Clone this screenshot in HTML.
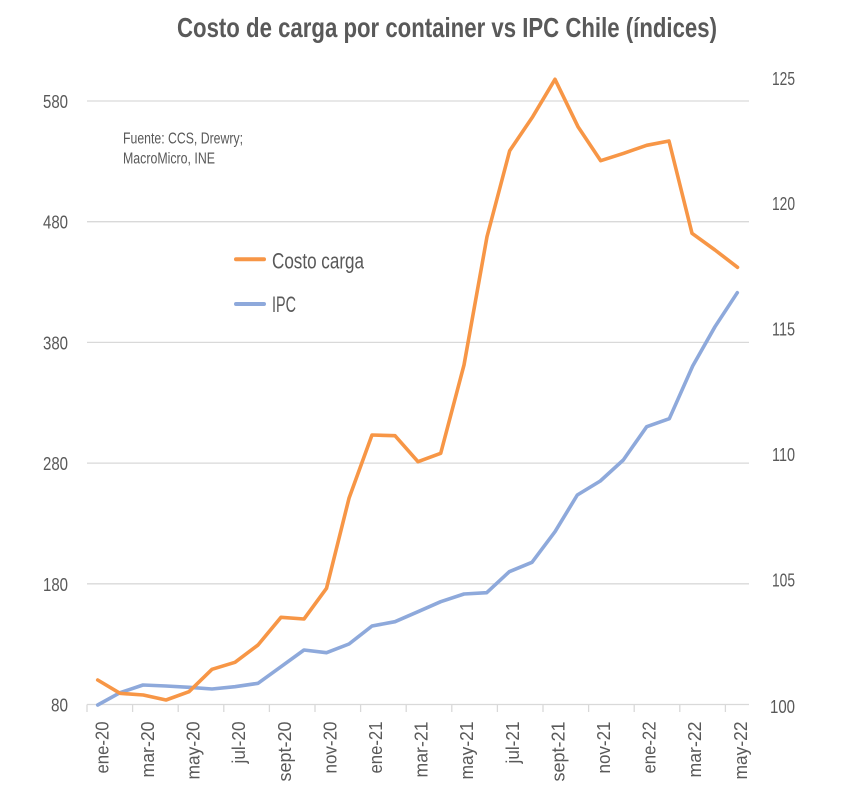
<!DOCTYPE html>
<html>
<head>
<meta charset="utf-8">
<style>
  html,body{margin:0;padding:0;background:#fff;}
  svg{display:block;}
  text{font-family:"Liberation Sans Narrow","Liberation Sans",sans-serif;fill:#595959;}
</style>
</head>
<body>
<svg width="859" height="797" viewBox="0 0 859 797" xmlns="http://www.w3.org/2000/svg">
  <rect width="859" height="797" fill="#fff"/>
  <!-- Title -->
  <text x="177" y="37" font-size="28" font-weight="bold" textLength="540" lengthAdjust="spacingAndGlyphs">Costo de carga por container vs IPC Chile (índices)</text>

  <!-- gridlines -->
  <g stroke="#d9d9d9" stroke-width="1.3">
    <line x1="87" y1="101" x2="749" y2="101"/>
    <line x1="87" y1="221.7" x2="749" y2="221.7"/>
    <line x1="87" y1="342.4" x2="749" y2="342.4"/>
    <line x1="87" y1="463.1" x2="749" y2="463.1"/>
    <line x1="87" y1="583.8" x2="749" y2="583.8"/>
    <line x1="87" y1="704.5" x2="749" y2="704.5"/>
  </g>
  <!-- x ticks -->
  <g stroke="#d9d9d9" stroke-width="1.3">
    <line x1="87" y1="704.5" x2="87" y2="712"/>
    <line x1="132.6" y1="704.5" x2="132.6" y2="712"/>
    <line x1="178.2" y1="704.5" x2="178.2" y2="712"/>
    <line x1="223.8" y1="704.5" x2="223.8" y2="712"/>
    <line x1="269.4" y1="704.5" x2="269.4" y2="712"/>
    <line x1="315" y1="704.5" x2="315" y2="712"/>
    <line x1="360.6" y1="704.5" x2="360.6" y2="712"/>
    <line x1="406.2" y1="704.5" x2="406.2" y2="712"/>
    <line x1="451.8" y1="704.5" x2="451.8" y2="712"/>
    <line x1="497.4" y1="704.5" x2="497.4" y2="712"/>
    <line x1="543" y1="704.5" x2="543" y2="712"/>
    <line x1="588.6" y1="704.5" x2="588.6" y2="712"/>
    <line x1="634.2" y1="704.5" x2="634.2" y2="712"/>
    <line x1="679.8" y1="704.5" x2="679.8" y2="712"/>
    <line x1="725.4" y1="704.5" x2="725.4" y2="712"/>
  </g>

  <!-- left axis labels -->
  <g font-size="18" text-anchor="end">
    <text x="68" y="108" textLength="25" lengthAdjust="spacingAndGlyphs">580</text>
    <text x="68" y="228.7" textLength="25" lengthAdjust="spacingAndGlyphs">480</text>
    <text x="68" y="349.4" textLength="25" lengthAdjust="spacingAndGlyphs">380</text>
    <text x="68" y="470.1" textLength="25" lengthAdjust="spacingAndGlyphs">280</text>
    <text x="68" y="590.8" textLength="25" lengthAdjust="spacingAndGlyphs">180</text>
    <text x="68" y="711.5" textLength="17" lengthAdjust="spacingAndGlyphs">80</text>
  </g>
  <!-- right axis labels -->
  <g font-size="18">
    <text x="772" y="85" textLength="23" lengthAdjust="spacingAndGlyphs">125</text>
    <text x="772" y="210.2" textLength="23" lengthAdjust="spacingAndGlyphs">120</text>
    <text x="772" y="335.7" textLength="23" lengthAdjust="spacingAndGlyphs">115</text>
    <text x="772" y="461.2" textLength="23" lengthAdjust="spacingAndGlyphs">110</text>
    <text x="772" y="586.7" textLength="23" lengthAdjust="spacingAndGlyphs">105</text>
    <text x="770" y="713" textLength="25" lengthAdjust="spacingAndGlyphs">100</text>
  </g>

  <!-- x labels -->
  <g font-size="18" text-anchor="end">
    <text transform="translate(108.4,721.5) rotate(-90)" textLength="52" lengthAdjust="spacingAndGlyphs">ene-20</text>
    <text transform="translate(154,721.5) rotate(-90)" textLength="56" lengthAdjust="spacingAndGlyphs">mar-20</text>
    <text transform="translate(199.6,721.5) rotate(-90)" textLength="58" lengthAdjust="spacingAndGlyphs">may-20</text>
    <text transform="translate(245.2,721.5) rotate(-90)" textLength="42" lengthAdjust="spacingAndGlyphs">jul-20</text>
    <text transform="translate(290.8,721.5) rotate(-90)" textLength="60" lengthAdjust="spacingAndGlyphs">sept-20</text>
    <text transform="translate(336.4,721.5) rotate(-90)" textLength="52" lengthAdjust="spacingAndGlyphs">nov-20</text>
    <text transform="translate(382,721.5) rotate(-90)" textLength="52" lengthAdjust="spacingAndGlyphs">ene-21</text>
    <text transform="translate(427.6,721.5) rotate(-90)" textLength="56" lengthAdjust="spacingAndGlyphs">mar-21</text>
    <text transform="translate(473.2,721.5) rotate(-90)" textLength="58" lengthAdjust="spacingAndGlyphs">may-21</text>
    <text transform="translate(518.8,721.5) rotate(-90)" textLength="42" lengthAdjust="spacingAndGlyphs">jul-21</text>
    <text transform="translate(564.4,721.5) rotate(-90)" textLength="60" lengthAdjust="spacingAndGlyphs">sept-21</text>
    <text transform="translate(610,721.5) rotate(-90)" textLength="52" lengthAdjust="spacingAndGlyphs">nov-21</text>
    <text transform="translate(655.6,721.5) rotate(-90)" textLength="52" lengthAdjust="spacingAndGlyphs">ene-22</text>
    <text transform="translate(701.2,721.5) rotate(-90)" textLength="56" lengthAdjust="spacingAndGlyphs">mar-22</text>
    <text transform="translate(746.8,721.5) rotate(-90)" textLength="58" lengthAdjust="spacingAndGlyphs">may-22</text>
  </g>

  <!-- source note -->
  <g font-size="15.5">
    <text x="123" y="143.5" textLength="120" lengthAdjust="spacingAndGlyphs">Fuente: CCS, Drewry;</text>
    <text x="123" y="163.5" textLength="92" lengthAdjust="spacingAndGlyphs">MacroMicro, INE</text>
  </g>

  <!-- legend -->
  <line x1="236" y1="259.3" x2="264" y2="259.3" stroke="#F79646" stroke-width="4" stroke-linecap="round"/>
  <text x="272" y="268.5" font-size="22" textLength="92" lengthAdjust="spacingAndGlyphs">Costo carga</text>
  <line x1="236" y1="304" x2="264" y2="304" stroke="#8EA9DB" stroke-width="4" stroke-linecap="round"/>
  <text x="272" y="312" font-size="22" textLength="24" lengthAdjust="spacingAndGlyphs">IPC</text>

  <!-- series -->
  <polyline fill="none" stroke="#8EA9DB" stroke-width="3.6" stroke-linejoin="round" stroke-linecap="round"
    points="97.7,705 120,692.7 143,685 166,686 189,687.3 212,689 235,686.7 258,683.3 281,666.7 304,650 326.5,652.7 349,644 372,626 395,621.7 418,611.7 440.7,601.7 464,594 486.7,592.7 509.3,571.7 532,562.3 555,531.7 577.3,495 600.3,481 623.3,460 646.7,426.7 669.3,418.7 692.7,366 715,326.7 737.3,292.7"/>
  <polyline fill="none" stroke="#F79646" stroke-width="3.6" stroke-linejoin="round" stroke-linecap="round"
    points="97.7,680 120,693.3 143.3,695 166,700 189,691.7 212,669.3 235,662.3 258,645 281,617.3 304,619 326.5,588.3 349,498.3 372,435 395,435.7 418,461.7 440.7,453.3 464,365 487,236.7 509.7,150.7 532.7,116.7 555,79.3 578,126.7 600.7,160.7 623.7,153.3 646.7,145.3 669,141 692,233.3 715,250 737.5,267.3"/>
</svg>
</body>
</html>
